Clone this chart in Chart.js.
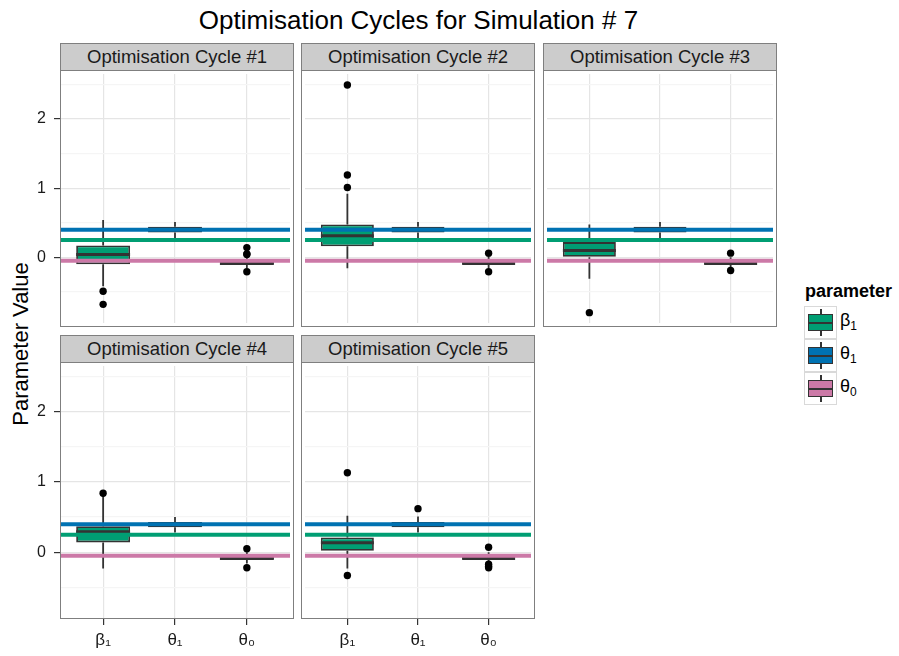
<!DOCTYPE html>
<html>
<head>
<meta charset="utf-8">
<script src="https://cdn.jsdelivr.net/npm/chart.js@4.4.1/dist/chart.umd.min.js"></script>
<style>
  body { margin: 0; background: #fff; font-family: "Liberation Sans", Arial, sans-serif; }
  #page { position: relative; width: 899px; height: 656px; overflow: hidden; }
  .abs { position: absolute; }
  #title { left: 60px; width: 717px; top: 6px; text-align: center; font-size: 26px; line-height: 28px; color: #000; }
  #ylab { left: 21px; top: 344px; font-size: 22px; line-height: 22px; white-space: nowrap;
          transform: translate(-50%, -50%) rotate(-90deg); color: #000; }
  .strip { background: #cccccc; border: 1px solid #7f7f7f; box-sizing: border-box;
           text-align: center; font-size: 18.5px; line-height: 26px; color: #1a1a1a; }
  .frame { border: 1px solid #7f7f7f; box-sizing: border-box; pointer-events: none; }
  #legend-title { left: 805px; top: 281px; font-size: 18px; font-weight: bold; color: #000; }
  .key { width: 33px; height: 33px; border: 1px solid #d9d9d9; box-sizing: border-box; background: #fff; }
  .key .wh { left: 15px; top: 2px; width: 1.5px; height: 27px; background: #333; }
  .key .bx { left: 3px; top: 7px; width: 25px; height: 17px; border: 1.5px solid #333; box-sizing: border-box; }
  .key .md { left: 3px; top: 14.5px; width: 25px; height: 2px; background: #333; }
  .key-label { font-size: 18px; color: #000; }
  .key-label sub { font-size: 12px; vertical-align: -4px; }
</style>
</head>
<body>
<div id="page">
  <div id="title" class="abs">Optimisation Cycles for Simulation # 7</div>
  <div id="ylab" class="abs">Parameter Value</div>
  <div id="legend-title" class="abs">parameter</div>
</div>
<script>
// parameters (x categories) and facet names
const categories = ["β₁", "θ₁", "θ₀"];
const cycleNames = [
  "Optimisation Cycle #1",
  "Optimisation Cycle #2",
  "Optimisation Cycle #3",
  "Optimisation Cycle #4",
  "Optimisation Cycle #5",
];

// axis ticks
const yMajorTicks = [0, 1, 2];
const yTickLabels = ["0", "1", "2"];
const yMinorTicks = [-0.5, 0.5, 1.5, 2.5];
const xTicks = [1, 2, 3];

// true parameter values (horizontal reference lines), same order as categories
const trueValues = [0.25, 0.4, -0.05];

// box statistics per cycle, each row = [beta1, theta1, theta0]
const whiskerLow = [
  [-0.42, 0.28, -0.16],
  [-0.16, 0.28, -0.16],
  [-0.31, 0.28, -0.15],
  [-0.23, 0.28, -0.16],
  [-0.23, 0.28, -0.14],
];
const boxLow = [
  [-0.1, 0.36, -0.1],
  [0.16, 0.36, -0.1],
  [0.0, 0.36, -0.1],
  [0.14, 0.355, -0.1],
  [0.02, 0.355, -0.1],
];
const medians = [
  [0.04, 0.4, -0.09],
  [0.31, 0.4, -0.09],
  [0.1, 0.4, -0.09],
  [0.29, 0.4, -0.09],
  [0.135, 0.4, -0.09],
];
const boxHigh = [
  [0.17, 0.44, -0.04],
  [0.475, 0.44, -0.03],
  [0.22, 0.44, -0.04],
  [0.37, 0.43, -0.04],
  [0.21, 0.43, -0.04],
];
const whiskerHigh = [
  [0.54, 0.51, -0.01],
  [0.92, 0.51, 0.02],
  [0.475, 0.51, 0.0],
  [0.8, 0.5, 0.0],
  [0.52, 0.51, 0.0],
];
const outliers = [
  [[-0.49, -0.68], [], [0.14, 0.05, 0.04, -0.21]],
  [[2.49, 1.19, 1.01], [], [0.06, -0.21]],
  [[-0.8], [], [0.06, -0.19]],
  [[0.84], [], [0.05, -0.22]],
  [[1.13, -0.33], [0.62], [0.07, -0.17, -0.2, -0.22]],
];

// styling / layout
const paramColors = ["#009E73", "#0072B2", "#CC79A7"];
const INK = "#333333";
const colLeft = [60, 301, 543];
const rowTop = [70, 362];
const PANEL_W = 234;
const PANEL_H = 257;
const STRIP_H = 28;
const Y_AXIS_W = 60;
const X_AXIS_H = 40;
const BOX_HALF = 0.375;

const page = document.getElementById("page");

function el(tag, cls, style, text) {
  const e = document.createElement(tag);
  if (cls) e.className = cls;
  Object.assign(e.style, style || {});
  if (text) e.textContent = text;
  page.appendChild(e);
  return e;
}

function segmentsFor(c) {
  const whiskers = [];
  const meds = [];
  categories.forEach((_, i) => {
    const x = xTicks[i];
    whiskers.push({ x, y: whiskerHigh[c][i] }, { x, y: boxHigh[c][i] }, { x, y: null });
    whiskers.push({ x, y: boxLow[c][i] }, { x, y: whiskerLow[c][i] }, { x, y: null });
    meds.push({ x: x - BOX_HALF, y: medians[c][i] }, { x: x + BOX_HALF, y: medians[c][i] }, { x, y: null });
  });
  return { whiskers, meds };
}

function buildPanel(c) {
  const col = c % 3;
  const row = Math.floor(c / 3);
  const showY = col === 0;
  const showX = row === 1;
  const left = colLeft[col];
  const top = rowTop[row];

  el("div", "abs strip", {
    left: left + "px", top: top - STRIP_H + 1 + "px", width: PANEL_W + "px", height: STRIP_H + "px",
  }, cycleNames[c]);

  const yW = showY ? Y_AXIS_W : 0;
  const xH = showX ? X_AXIS_H : 0;
  const wrap = el("div", "abs", {
    left: left - yW + "px", top: top + "px", width: PANEL_W + yW + "px", height: PANEL_H + xH + "px",
  });
  const canvas = document.createElement("canvas");
  wrap.appendChild(canvas);

  el("div", "abs frame", {
    left: left + "px", top: top + "px", width: PANEL_W + "px", height: PANEL_H + "px",
  });

  const { whiskers, meds } = segmentsFor(c);
  const points = [];
  outliers[c].forEach((list, i) => list.forEach((v) => points.push({ x: xTicks[i], y: v })));

  const lineBase = { type: "line", pointRadius: 0, fill: false, tension: 0, spanGaps: false };

  const datasets = [
    ...trueValues.map((v, i) => ({
      ...lineBase,
      label: "true " + categories[i],
      data: [{ x: 0.4, y: v }, { x: 3.6, y: v }],
      borderColor: paramColors[i],
      borderWidth: 4,
      order: 0,
    })),
    {
      type: "scatter",
      label: "outliers",
      data: points,
      pointRadius: 3.7,
      pointBackgroundColor: "#000",
      pointBorderWidth: 0,
      order: 1,
    },
    { ...lineBase, label: "median", data: meds, borderColor: INK, borderWidth: 3, order: 2 },
    { ...lineBase, label: "whiskers", data: whiskers, borderColor: INK, borderWidth: 1.8, order: 3 },
    {
      type: "bar",
      label: "box",
      data: categories.map((_, i) => ({ x: xTicks[i], y: [boxLow[c][i], boxHigh[c][i]] })),
      backgroundColor: paramColors,
      borderColor: INK,
      borderWidth: 1.8,
      borderSkipped: false,
      barPercentage: BOX_HALF * 2,
      categoryPercentage: 1,
      order: 4,
    },
  ];

  new Chart(canvas, {
    type: "bar",
    data: { datasets },
    options: {
      responsive: true,
      maintainAspectRatio: false,
      animation: false,
      layout: { padding: 0 },
      plugins: { legend: { display: false }, tooltip: { enabled: false } },
      scales: {
        x: {
          type: "linear",
          min: 0.4,
          max: 3.6,
          offset: false,
          afterBuildTicks: (axis) => { axis.ticks = xTicks.map((v) => ({ value: v })); },
          afterFit: (s) => { s.height = xH; s.paddingLeft = 0; s.paddingRight = 0; },
          border: { display: false },
          grid: {
            offset: false,
            color: "#e5e5e5",
            lineWidth: 1.2,
            drawTicks: showX,
            tickLength: 6,
            tickColor: INK,
          },
          ticks: {
            display: showX,
            autoSkip: false,
            maxRotation: 0,
            padding: 5,
            color: "#1a1a1a",
            font: { family: "'Liberation Sans', Arial, sans-serif", size: 17 },
            callback: (v) => categories[xTicks.indexOf(v)] ?? "",
          },
        },
        y: {
          type: "linear",
          min: -0.95,
          max: 2.65,
          beginAtZero: false,
          afterBuildTicks: (axis) => {
            axis.ticks = [...yMinorTicks, ...yMajorTicks].sort((a, b) => a - b).map((v) => ({ value: v }));
          },
          afterFit: (s) => { s.width = yW; s.paddingTop = 0; s.paddingBottom = 0; },
          border: { display: false },
          grid: {
            color: (ctx) => (ctx.tick && yMajorTicks.includes(ctx.tick.value) ? "#e5e5e5" : "#f5f5f5"),
            lineWidth: 1.2,
            drawTicks: showY,
            tickLength: 6,
            tickColor: (ctx) => (ctx.tick && yMajorTicks.includes(ctx.tick.value) ? INK : "rgba(0,0,0,0)"),
          },
          ticks: {
            display: showY,
            autoSkip: false,
            padding: 8,
            color: "#1a1a1a",
            font: { family: "'Liberation Sans', Arial, sans-serif", size: 16 },
            callback: (v) => {
              const k = yMajorTicks.indexOf(v);
              return k >= 0 ? yTickLabels[k] : "";
            },
          },
        },
      },
    },
  });
}

function subscriptHtml(name) {
  const digits = { "₀": "0", "₁": "1" };
  return name[0] + "<sub>" + (digits[name[1]] || "") + "</sub>";
}

function buildLegend() {
  const keyTops = [306, 339, 372];
  categories.forEach((name, i) => {
    const key = el("div", "abs key", { left: "804px", top: keyTops[i] + "px" });
    const wh = document.createElement("div");
    wh.className = "abs wh";
    const bx = document.createElement("div");
    bx.className = "abs bx";
    bx.style.background = paramColors[i];
    const md = document.createElement("div");
    md.className = "abs md";
    key.append(wh, bx, md);
    const lab = el("div", "abs key-label", { left: "840px", top: keyTops[i] + 4 + "px" });
    lab.innerHTML = subscriptHtml(name);
  });
}

window.addEventListener("DOMContentLoaded", () => {
  cycleNames.forEach((_, c) => buildPanel(c));
  buildLegend();
});
</script>
</body>
</html>
